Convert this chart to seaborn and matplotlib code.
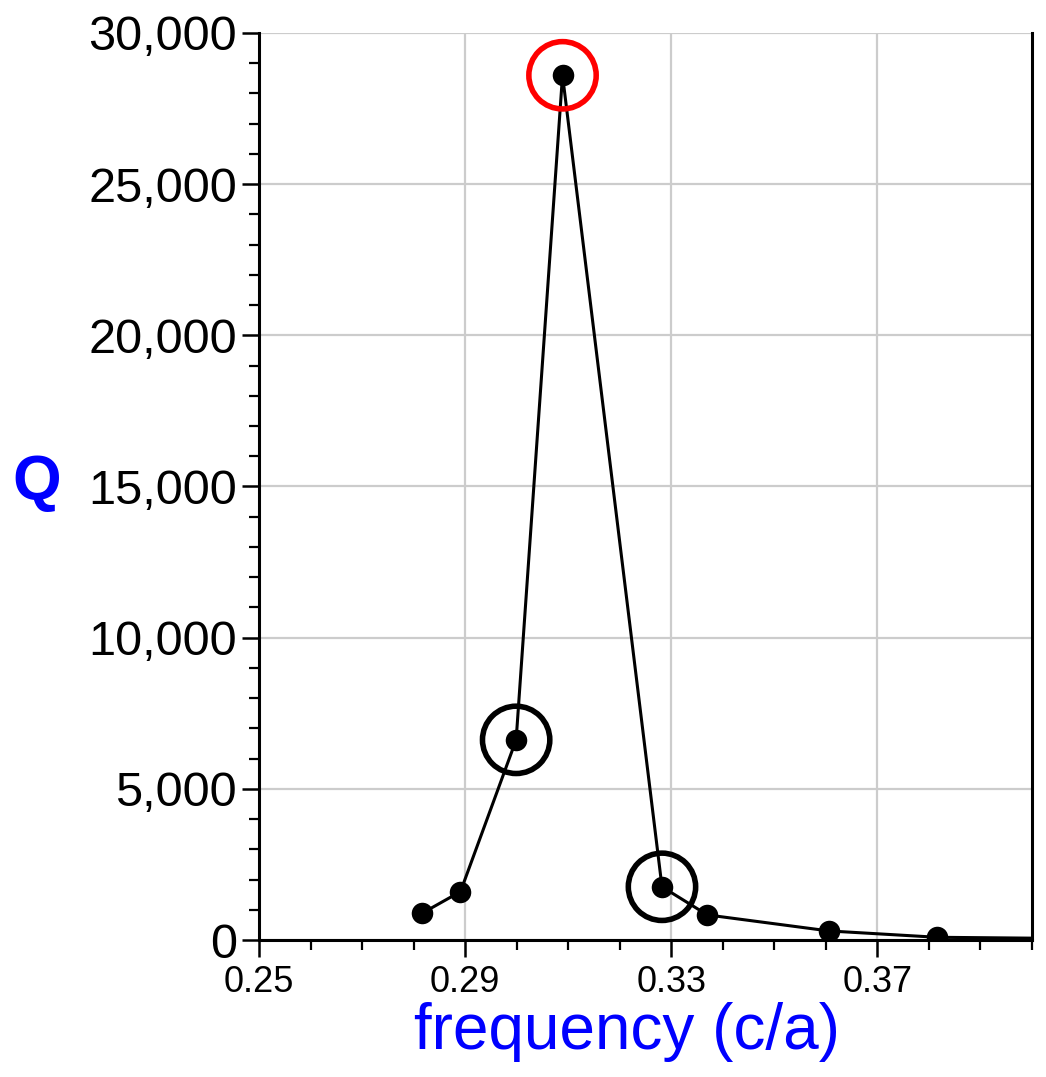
import matplotlib
matplotlib.use("Agg")
import matplotlib.pyplot as plt
from matplotlib.ticker import MultipleLocator, FuncFormatter
import seaborn as sns
import pandas as pd

# Quality factor of each resonant mode versus normalized frequency
frequency = [0.2817, 0.2891, 0.2999, 0.3089, 0.3282, 0.3370, 0.3606, 0.3816, 0.4200]
q_factor = [890, 1600, 6620, 28600, 1760, 830, 300, 90, 30]

# Modes singled out with rings
highlight_freq = [0.2999, 0.3282]
highlight_q = [6620, 1760]
peak_freq = [0.3089]
peak_q = [28600]

x_ticks = [0.25, 0.29, 0.33, 0.37]
x_tick_labels = ["0.25", "0.29", "0.33", "0.37"]

sns.set_theme(style="white")
plt.rcParams["font.family"] = ["Liberation Sans", "DejaVu Sans"]

df = pd.DataFrame({"frequency": frequency, "Q": q_factor})

fig = plt.figure(figsize=(10.46, 10.77), dpi=100)
ax = fig.add_axes([0.2476, 0.1272, 0.7390, 0.8422])

sns.lineplot(data=df, x="frequency", y="Q", ax=ax, color="black", linewidth=2.2,
             marker="o", markersize=15.5, markeredgewidth=0, sort=False, zorder=3)

sns.scatterplot(x=highlight_freq, y=highlight_q, ax=ax, s=2350, facecolor="none",
                edgecolor="black", linewidth=4.0, zorder=4)
sns.scatterplot(x=peak_freq, y=peak_q, ax=ax, s=2350, facecolor="none",
                edgecolor="#ff0000", linewidth=4.0, zorder=4)

ax.set_xlim(0.25, 0.40)
ax.set_ylim(0, 30000)

ax.set_xticks(x_ticks)
ax.set_xticklabels(x_tick_labels)
ax.xaxis.set_minor_locator(MultipleLocator(0.01))
ax.yaxis.set_major_locator(MultipleLocator(5000))
ax.yaxis.set_minor_locator(MultipleLocator(1000))
ax.yaxis.set_major_formatter(FuncFormatter(lambda v, p: f"{int(v):,}"))

ax.grid(True, which="major", color="#cccccc", linewidth=1.6)
ax.set_axisbelow(True)

ax.tick_params(axis="both", which="major", direction="out", length=12, width=1.8,
               color="black", labelcolor="black", bottom=True, left=True)
ax.tick_params(axis="both", which="minor", direction="out", length=7, width=1.6,
               color="black", bottom=True, left=True)
ax.tick_params(axis="y", which="major", labelsize=35, pad=4)
ax.tick_params(axis="x", which="major", labelsize=26, pad=6)

for side in ["left", "bottom", "right"]:
    ax.spines[side].set_visible(True)
    ax.spines[side].set_color("black")
    ax.spines[side].set_linewidth(2.2)
ax.spines["top"].set_visible(False)

ax.set_xlabel("frequency (c/a)", fontsize=46, color="#0000ff", labelpad=2)
ax.xaxis.set_label_coords(0.476, -0.068)
ax.set_ylabel("")
fig.text(0.035, 0.552, "Q", fontsize=45, fontweight="bold", color="#0000ff",
         ha="center", va="center")

fig.savefig("out.png", dpi=100)
